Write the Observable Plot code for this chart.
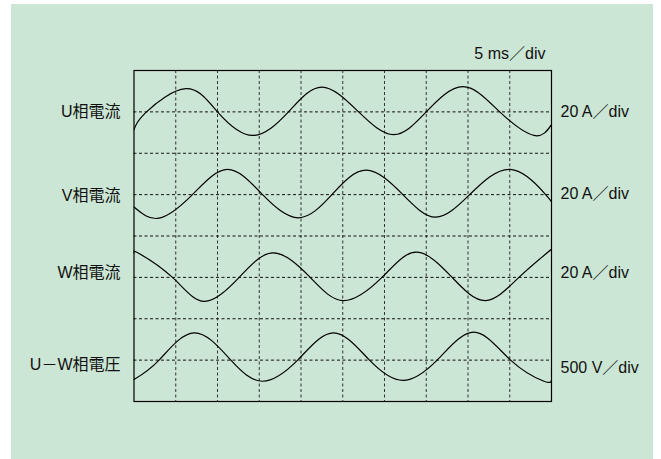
<!DOCTYPE html>
<html><head><meta charset="utf-8">
<script src="https://cdn.jsdelivr.net/npm/d3@7"></script>
<script src="https://cdn.jsdelivr.net/npm/@observablehq/plot@0.6"></script>
<style>
html,body{margin:0;padding:0;background:#fff;}
#wrap{position:relative;width:661px;height:459px;overflow:hidden;}
#bg{position:absolute;left:11px;top:4px;width:642px;height:455px;background:#cce6d5;}
#chart{position:absolute;left:0;top:0;}
</style></head><body>
<div id="wrap"><div id="bg"></div><div id="chart"></div></div>
<script>
// time in ms (5 ms/div, 10 div), level in divisions from bottom (8 div)
const timeU  = [0, 1.5, 6.2, 10.0, 14.2, 18.5, 22.5, 26.9, 31.1, 35.0, 39.4, 43.8, 47.9, 50];
const levelU = [6.57, 7.0, 7.56, 7.0, 6.43, 7.0, 7.6, 7.0, 6.45, 7.0, 7.61, 7.0, 6.43, 6.69];

const timeV  = [0, 3.0, 7.0, 11.2, 15.4, 19.7, 23.7, 27.8, 32.2, 36.1, 40.2, 45.1, 49.3, 50];
const levelV = [4.70, 4.43, 5.0, 5.61, 5.0, 4.44, 5.0, 5.59, 5.0, 4.455, 5.0, 5.61, 5.0, 4.82];

const timeW  = [0, 0.4, 4.6, 8.4, 12.6, 16.7, 21.1, 25.1, 29.7, 33.8, 38.1, 42.1, 46.1, 50];
const levelW = [3.59, 3.6, 3.0, 2.42, 3.0, 3.59, 3.0, 2.44, 3.0, 3.61, 3.0, 2.44, 3.0, 3.68];

const timeUW  = [0, 3.0, 7.2, 11.6, 15.4, 19.6, 23.9, 28.2, 32.2, 36.3, 40.7, 45.1, 49.1, 50];
const levelUW = [0.53, 1.0, 1.66, 1.0, 0.49, 1.0, 1.66, 1.0, 0.51, 1.0, 1.675, 1.0, 0.49, 0.52];

const traceNames = ["U相電流", "V相電流", "W相電流", "U－W相電圧"];
const leftLabelLevels = [7.0, 4.98, 3.12, 0.88];
const rightLabels = ["20 A／div", "20 A／div", "20 A／div", "500 V／div"];
const rightLabelLevels = [7.0, 5.03, 3.12, 0.81];
const timeLabel = "5 ms／div";

const gridTimes = [5, 10, 15, 20, 25, 30, 35, 40, 45];
const gridLevels = [1, 2, 3, 4, 5, 6, 7];

const series = [[timeU, levelU], [timeV, levelV], [timeW, levelW], [timeUW, levelUW]];
const traces = series.flatMap(([t, v], i) => t.map((tt, j) => ({trace: traceNames[i], t: tt, v: v[j]})));
const leftTable = traceNames.map((name, i) => ({name, level: leftLabelLevels[i]}));
const rightTable = rightLabels.map((name, i) => ({name, level: rightLabelLevels[i]}));

const font = '"Liberation Sans", "Noto Sans CJK JP", sans-serif';

const chart = Plot.plot({
  width: 661,
  height: 459,
  marginLeft: 133.5,
  marginRight: 110,
  marginTop: 70,
  marginBottom: 58,
  x: {domain: [0, 50], axis: null},
  y: {domain: [0, 8], axis: null},
  style: {background: "transparent", fontFamily: font, overflow: "visible"},
  marks: [
    Plot.ruleX(gridTimes, {stroke: "#333", strokeWidth: 1, strokeDasharray: "3,2.5"}),
    Plot.ruleY(gridLevels, {stroke: "#111", strokeWidth: 1, strokeDasharray: "3,2.5"}),
    Plot.line(traces, {x: "t", y: "v", z: "trace", stroke: "#000", strokeWidth: 1.2, curve: "natural", clip: true}),
    Plot.frame({stroke: "#000", strokeWidth: 1.2}),
    Plot.text(leftTable, {x: () => 0, y: "level", text: "name", textAnchor: "end", dx: -13.5, fontSize: 16, fill: "#111"}),
    Plot.text(rightTable, {x: () => 50, y: "level", text: "name", textAnchor: "start", dx: 9, fontSize: 16, fill: "#111"}),
    Plot.text([timeLabel], {x: () => 50, y: () => 8, text: d => d, textAnchor: "end", dx: -6, dy: -17, fontSize: 16, fill: "#111"})
  ]
});
document.getElementById("chart").appendChild(chart);
</script>
</body></html>
